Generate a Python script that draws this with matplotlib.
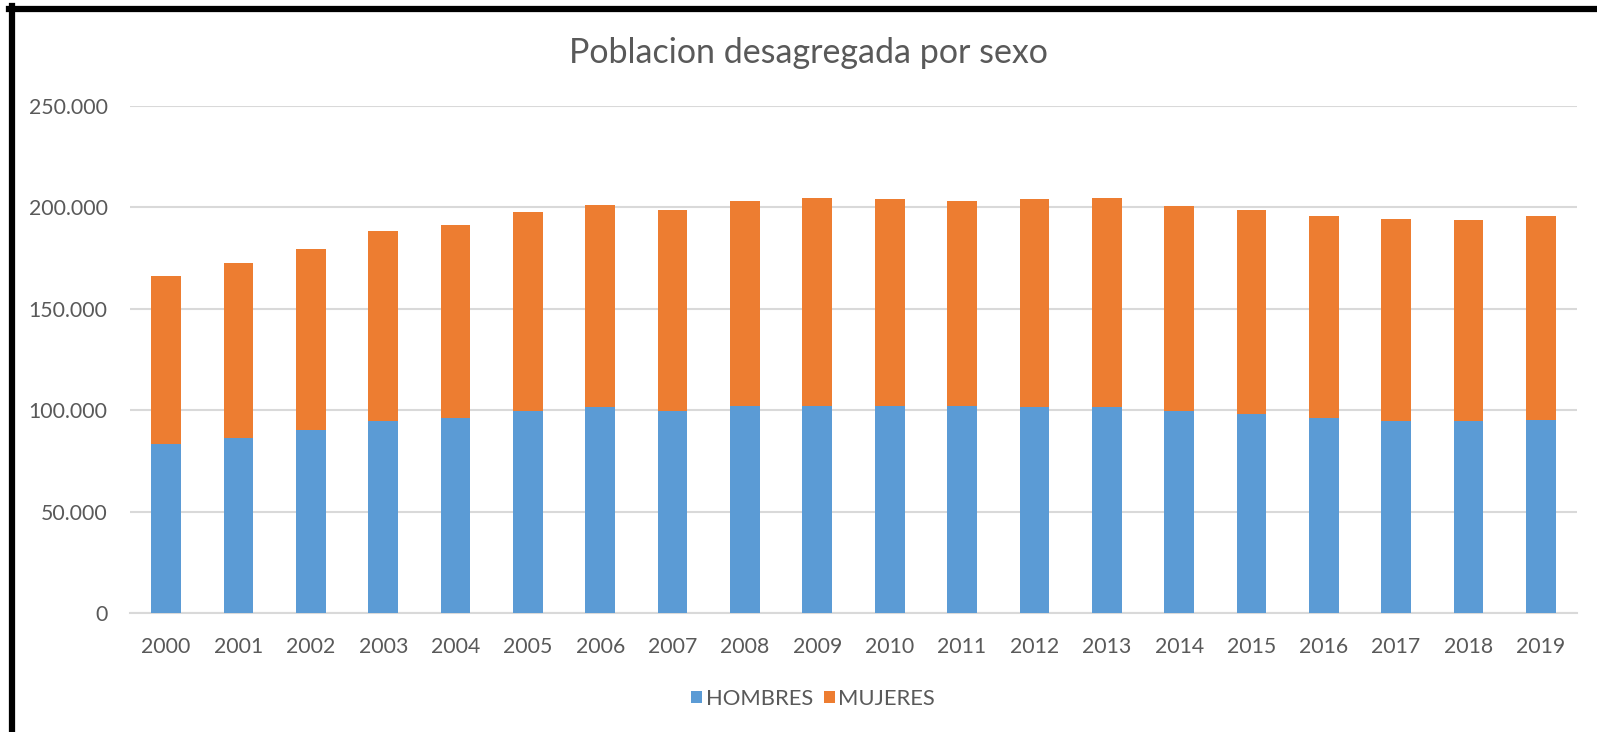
import matplotlib
matplotlib.use("Agg")
import matplotlib.pyplot as plt
from matplotlib.lines import Line2D
from matplotlib.ticker import FuncFormatter
import numpy as np

# data
years = [str(y) for y in range(2000, 2020)]
hombres = [83100, 86100, 90000, 94900, 96200, 99800, 101800, 99800, 102100, 102100,
           102100, 102100, 101800, 101800, 99800, 97900, 96200, 94900, 94900, 95200]
totales = [166100, 172500, 179300, 188200, 191100, 197500, 201000, 198500, 203000, 204400,
           203900, 203000, 203900, 204400, 200500, 198500, 195600, 194100, 193600, 195600]
mujeres = [t - h for t, h in zip(totales, hombres)]
yticks = [0, 50000, 100000, 150000, 200000, 250000]

title = "Poblacion desagregada por sexo"
text_col = "#595959"
blue = "#5B9BD5"
orange = "#ED7D31"

plt.rcParams["font.family"] = ["Lato", "DejaVu Sans"]

W, H = 1597, 732
fig = plt.figure(figsize=(W / 100, H / 100), dpi=100)
ax = fig.add_axes([130 / W, 1 - 613 / H, (1577 - 130) / W, (613 - 106) / H])

x = np.arange(len(years))
ax.bar(x, hombres, width=0.41, color=blue, label="HOMBRES", zorder=3)
ax.bar(x, mujeres, width=0.41, bottom=hombres, color=orange, label="MUJERES", zorder=3)

ax.set_xlim(-0.5, len(years) - 0.5)
ax.set_ylim(0, 250000)
ax.set_yticks(yticks)
ax.yaxis.set_major_formatter(FuncFormatter(lambda v, p: f"{int(v):,}".replace(",", ".")))
ax.set_xticks(x)
ax.set_xticklabels(years)
ax.grid(axis="y", color="#D9D9D9", linewidth=1.5, zorder=0)
for s in ["top", "right", "left"]:
    ax.spines[s].set_visible(False)
ax.spines["bottom"].set_color("#D9D9D9")
ax.spines["bottom"].set_linewidth(1.5)
ax.tick_params(axis="both", length=0, labelsize=15.3, colors=text_col)
ax.tick_params(axis="y", pad=16)
ax.tick_params(axis="x", pad=17)

fig.text(808 / W, 1 - 53 / H, title, ha="center", va="center", fontsize=24.5, color=text_col)

leg = fig.legend(loc="center", bbox_to_anchor=(813 / W, 1 - 699 / H), ncol=2, frameon=False,
                 fontsize=15.8, handlelength=0.5, handleheight=0.5, handletextpad=0.15,
                 columnspacing=0.5)
for t in leg.get_texts():
    t.set_color(text_col)

# black frame lines (top and left) as in the screenshot
fig.add_artist(Line2D([9 / W, 1.0], [1 - 9 / H, 1 - 9 / H], color="black", linewidth=4.5,
                      transform=fig.transFigure))
fig.add_artist(Line2D([12 / W, 12 / W], [0.0, 1 - 6 / H], color="black", linewidth=4.5,
                      transform=fig.transFigure))

fig.savefig("out.png", dpi=100, facecolor="white")
